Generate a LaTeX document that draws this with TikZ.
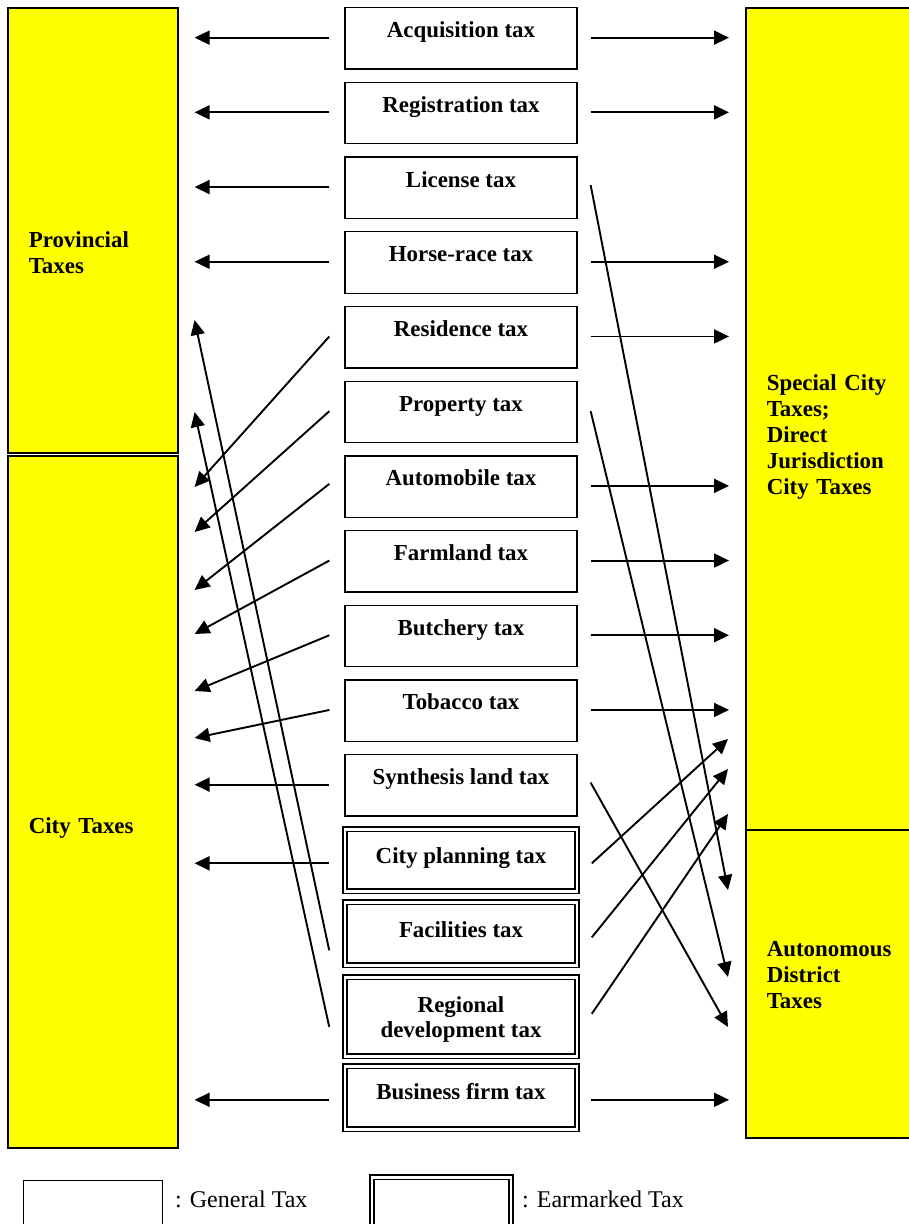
\documentclass[tikz,border=0pt]{standalone}
\usepackage{fontspec}
\setmainfont{Liberation Serif}
\usetikzlibrary{arrows.meta}
\definecolor{levyyellow}{RGB}{255,255,0}

\begin{document}
\begin{tikzpicture}[x=1pt,y=-1pt]
\tikzstyle{every node}+=[inner sep=0pt, font=\fontsize{22.9}{25.8}\selectfont\bfseries]
\tikzset{
  gen/.style={draw, line width=1.3pt, minimum width=232pt, text height=30pt, text depth=31.4pt, align=center},
  ear/.style={draw, double, double distance=2.6pt, line width=1.6pt, minimum width=232pt, text height=34pt, text depth=28pt, align=center},
  levy/.style={draw, fill=levyyellow, line width=1.6pt, inner xsep=21pt, inner ysep=0pt, align=left, anchor=north west},
  arr/.style={line width=1.9pt, -{Triangle[length=15pt,width=14pt]}},
  lgen/.style={draw, line width=1pt, minimum width=139pt, minimum height=80pt, anchor=north west},
  lear/.style={draw, double, double distance=2.6pt, line width=1.6pt, minimum width=139pt, minimum height=80pt, anchor=north west},
  legtxt/.style={font=\fontsize{24}{28}\selectfont, anchor=base west}
}
\useasboundingbox (0,0) rectangle (909,1224);

% who gets the money
\node[levy, text width=128pt, text height=240pt, text depth=205pt] (prov) at (7,7) {Provincial\\Taxes};
\node[levy, text width=128pt, text height=378pt, text depth=314pt] (city) at (7,455) {City Taxes};
\node[levy, text width=150pt, text height=383pt, text depth=439pt] (spec) at (745,7) {Special City\\Taxes;\\Direct\\Jurisdiction\\City Taxes};
\node[levy, text width=150pt, text height=127pt, text depth=181pt] (auton) at (745,829) {Autonomous\\District\\Taxes};

% general taxes
\node[gen, anchor=north] (acq) at (461,7) {Acquisition tax};
\node[gen, anchor=north] (regis) at (461,81.7) {Registration tax};
\node[gen, anchor=north] (lic) at (461,156.4) {License tax};
\node[gen, anchor=north] (horse) at (461,231.1) {Horse-race tax};
\node[gen, anchor=north] (resid) at (461,305.8) {Residence tax};
\node[gen, anchor=north] (prop) at (461,380.5) {Property tax};
\node[gen, anchor=north] (autom) at (461,455.2) {Automobile tax};
\node[gen, anchor=north] (farm) at (461,529.9) {Farmland tax};
\node[gen, anchor=north] (butch) at (461,604.6) {Butchery tax};
\node[gen, anchor=north] (tob) at (461,679.3) {Tobacco tax};
\node[gen, anchor=north] (synth) at (461,754) {Synthesis land tax};

% earmarked taxes
\node[ear, anchor=north] (cplan) at (461,828.5) {City planning tax};
\node[ear, anchor=north, text height=35pt] (facil) at (461,901.5) {Facilities tax};
\node[ear, anchor=north, text height=60.5pt, text depth=18.5pt] (regdev) at (461,976.5) {Regional\\development tax};
\node[ear, anchor=north, text height=33.5pt, text depth=29.5pt] (busi) at (461,1065.5) {Business firm tax};

% straight to the left
\draw[arr] ([xshift=-15pt]acq.base west) -- ([xshift=16pt]prov.east |- acq.base);
\draw[arr] ([xshift=-15pt]regis.base west) -- ([xshift=16pt]prov.east |- regis.base);
\draw[arr] ([xshift=-15pt]lic.base west) -- ([xshift=16pt]prov.east |- lic.base);
\draw[arr] ([xshift=-15pt]horse.base west) -- ([xshift=16pt]prov.east |- horse.base);
\draw[arr] ([xshift=-15pt]synth.base west) -- ([xshift=16pt]city.east |- synth.base);
\draw[arr] ([xshift=-15pt]cplan.base west) -- ([xshift=16pt]city.east |- cplan.base);
\draw[arr] ([xshift=-15pt]busi.base west) -- ([xshift=16pt]city.east |- busi.base);
% slanted to the left
\draw[arr] ([xshift=-15pt]resid.base west) -- ([xshift=16pt]city.east |- 0,487);
\draw[arr] ([xshift=-15pt]prop.base west) -- ([xshift=16pt]city.east |- 0,532);
\draw[arr] ([xshift=-15pt,yshift=2pt]autom.base west) -- ([xshift=16pt]city.east |- 0,590);
\draw[arr] ([xshift=-15pt]farm.base west) -- ([xshift=16pt]city.east |- 0,634);
\draw[arr] ([xshift=-15pt]butch.base west) -- ([xshift=16pt]city.east |- 0,691);
\draw[arr] ([xshift=-15pt]tob.base west) -- ([xshift=16pt]city.east |- 0,738);
\draw[arr] ([xshift=-15pt,yshift=-13pt]facil.base west) -- ([xshift=16pt]prov.east |- 0,320);
\draw[arr] ([xshift=-15pt,yshift=11pt]regdev.base west) -- ([xshift=16pt]prov.east |- 0,412);

% straight to the right
\draw[arr] ([xshift=13pt]acq.base east) -- ([xshift=-16pt]spec.west |- acq.base);
\draw[arr] ([xshift=13pt]regis.base east) -- ([xshift=-16pt]spec.west |- regis.base);
\draw[arr] ([xshift=13pt]horse.base east) -- ([xshift=-16pt]spec.west |- horse.base);
\draw[arr] ([xshift=13pt]resid.base east) -- ([xshift=-16pt]spec.west |- resid.base);
\draw[arr] ([xshift=13pt]autom.base east) -- ([xshift=-16pt]spec.west |- autom.base);
\draw[arr] ([xshift=13pt]farm.base east) -- ([xshift=-16pt]spec.west |- farm.base);
\draw[arr] ([xshift=13pt]butch.base east) -- ([xshift=-16pt]spec.west |- butch.base);
\draw[arr] ([xshift=13pt]tob.base east) -- ([xshift=-16pt]spec.west |- tob.base);
\draw[arr] ([xshift=13pt]busi.base east) -- ([xshift=-16pt]auton.west |- busi.base);
% slanted to the right
\draw[arr] ([xshift=13pt,yshift=2pt]lic.base east) -- ([xshift=-17pt]auton.west |- 0,890);
\draw[arr] ([xshift=13pt]prop.base east) -- ([xshift=-17pt]auton.west |- 0,977);
\draw[arr] ([xshift=13pt,yshift=2pt]synth.base east) -- ([xshift=-17pt]auton.west |- 0,1027);
\draw[arr] ([xshift=14pt]cplan.base east) -- ([xshift=-17pt]spec.west |- 0,739);
\draw[arr] ([xshift=14pt]facil.base east) -- ([xshift=-17pt]spec.west |- 0,769);
\draw[arr] ([xshift=14pt,yshift=24pt]regdev.base east) -- ([xshift=-17pt]spec.west |- 0,814);

% legend
\node[lgen] (lgen) at (23,1180) {};
\node[legtxt] (lgent) at (175,1207) {: General Tax};
\node[lear] (lear) at (371,1176.5) {};
\node[legtxt] (leart) at (522,1207) {: Earmarked Tax};
\end{tikzpicture}
\end{document}
